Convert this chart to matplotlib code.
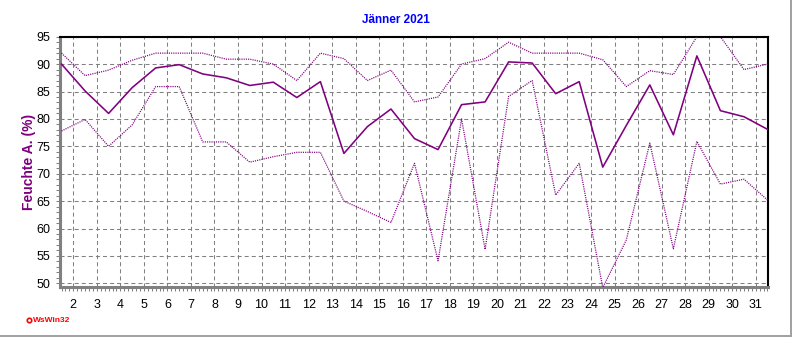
import numpy as np
import matplotlib
matplotlib.use("Agg")
import matplotlib.pyplot as plt
from matplotlib.lines import Line2D

plt.rcParams['font.family'] = ['Liberation Sans', 'DejaVu Sans']
plt.rcParams['lines.scale_dashes'] = False

days = list(range(1, 32))
tick_days = list(range(2, 32))

hum_mean = [90.0, 85.1, 81.0, 85.7, 89.3, 89.9, 88.2, 87.5, 86.1, 86.7, 83.9, 86.8,
            73.7, 78.6, 81.8, 76.4, 74.4, 82.6, 83.1, 90.4, 90.2, 84.6, 86.8, 71.2,
            78.8, 86.2, 77.1, 91.5, 81.5, 80.4, 78.1]
hum_max = [92.0, 87.9, 88.9, 90.7, 92.0, 92.0, 92.0, 90.9, 90.9, 90.0, 87.0, 92.0,
           91.0, 87.0, 88.9, 83.1, 84.0, 90.0, 91.0, 94.0, 92.0, 92.0, 92.0, 90.8,
           85.9, 88.8, 88.1, 95.0, 95.0, 89.0, 90.0]
hum_min = [77.8, 79.9, 75.0, 78.9, 85.9, 85.9, 75.8, 75.8, 72.1, 73.1, 73.9, 73.9,
           65.0, 63.1, 61.1, 71.9, 54.1, 80.0, 56.2, 84.1, 87.0, 66.1, 71.9, 49.2,
           57.9, 75.6, 56.3, 75.9, 68.1, 69.0, 65.2]

W, H = 792, 337
fig = plt.figure(figsize=(W / 100, H / 100), dpi=100)
fig.patch.set_facecolor('white')

L, R, T, B = 60, 768.3, 36.7, 286.7
ax = fig.add_axes([L / W, 1 - B / H, (R - L) / W, (B - T) / H])

purple = '#800080'
x = np.array(days) + 0.5

ax.plot(x, hum_max, color=purple, lw=0.9, linestyle=(0, (0.8, 0.8)), zorder=3)
ax.plot(x, hum_min, color=purple, lw=0.9, linestyle=(0, (0.8, 0.8)), zorder=3)
ax.plot(x, hum_mean, color=purple, lw=1.15, zorder=4)

ax.set_xlim(1.435, 31.535)
ax.set_ylim(49.38, 95)

ax.set_xticks(tick_days)
ax.set_xticklabels([str(d) for d in tick_days])
ax.set_xticks(np.arange(1.5, 31.55, 1 / 6), minor=True)
ax.set_yticks(np.arange(50, 96, 5))
ax.set_yticks(np.arange(50, 96, 1), minor=True)

ax.grid(True, which='major', color='#808080', lw=0.75, linestyle=(0, (2.9, 2.2)))
ax.tick_params(axis='both', which='major', labelsize=9, color='#808080', length=3, width=0.75)
ax.tick_params(axis='both', which='minor', color='#808080', length=3, width=0.75)
ax.tick_params(axis='x', which='major', pad=6)
ax.tick_params(axis='y', which='major', pad=4)

for s in ['left', 'bottom']:
    ax.spines[s].set_color('#808080')
    ax.spines[s].set_linewidth(2.2)
for s in ['top', 'right']:
    ax.spines[s].set_color('black')
    ax.spines[s].set_linewidth(1.5)

ax.set_ylabel('Feuchte A. (%)', color=purple, fontsize=10, fontweight='bold')
ax.yaxis.set_label_coords((36 - L) / (R - L), 0.5)

fig.text(396 / W, 1 - 20 / H, 'Jänner 2021', color='#0000ff', fontsize=8.5,
         fontweight='bold', ha='center', va='center')

fig.add_artist(Line2D([29 / W], [1 - 320 / H], marker='o', markersize=3.2,
                      markerfacecolor='white', markeredgecolor='red', markeredgewidth=1.2,
                      transform=fig.transFigure))
fig.text(32.5 / W, 1 - 320 / H, 'WsWin32', color='red', fontsize=6,
         fontweight='bold', ha='left', va='center')

fig.add_artist(Line2D([790.5 / W, 790.5 / W], [0, 1], color='#a0a0a0', lw=1.4,
                      transform=fig.transFigure))
fig.add_artist(Line2D([0, 1], [1.5 / H, 1.5 / H], color='#a0a0a0', lw=1.4,
                      transform=fig.transFigure))

fig.savefig('out.png', dpi=100)
